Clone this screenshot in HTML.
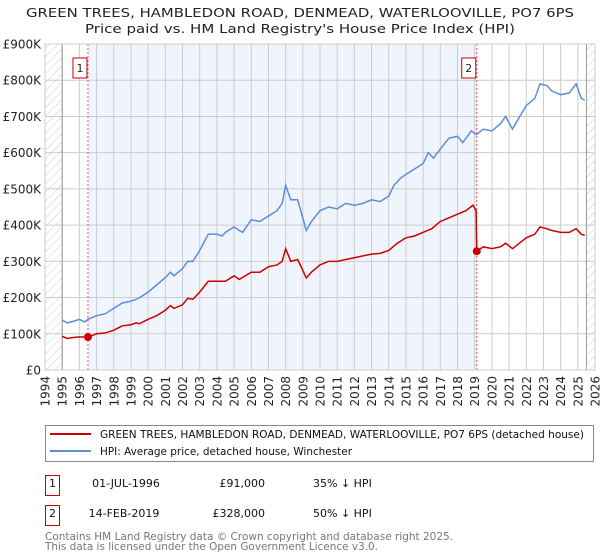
<!DOCTYPE html>
<html><head><meta charset="utf-8"><style>
body{margin:0;background:#fff;font-family:"DejaVu Sans","Liberation Sans",sans-serif;}
svg{display:block;font-family:"DejaVu Sans","Liberation Sans",sans-serif;}
</style></head><body>
<svg id="c" width="600" height="560" xmlns="http://www.w3.org/2000/svg">
<defs><pattern id="hatch" width="6" height="6" patternUnits="userSpaceOnUse" patternTransform="rotate(45)"><line x1="0" y1="0" x2="0" y2="6" stroke="#ccc" stroke-width="1"/></pattern></defs>
<text x="300" y="17" text-anchor="middle" font-size="12.5" fill="#222" textLength="548" lengthAdjust="spacingAndGlyphs">GREEN TREES, HAMBLEDON ROAD, DENMEAD, WATERLOOVILLE, PO7 6PS</text>
<text x="300" y="33" text-anchor="middle" font-size="12.5" fill="#222" textLength="430" lengthAdjust="spacingAndGlyphs">Price paid vs. HM Land Registry's House Price Index (HPI)</text>
<g id="plot"></g>
<g>
<rect x="45.5" y="425.5" width="548" height="36" fill="#fff" stroke="#888"/>
<line x1="50" y1="434" x2="91" y2="434" stroke="#cc0000" stroke-width="2"/>
<text x="100" y="438" font-size="11" fill="#111" textLength="484" lengthAdjust="spacingAndGlyphs">GREEN TREES, HAMBLEDON ROAD, DENMEAD, WATERLOOVILLE, PO7 6PS (detached house)</text>
<line x1="50" y1="451" x2="91" y2="451" stroke="#5b8fd4" stroke-width="2"/>
<text x="100" y="455" font-size="11" fill="#111" textLength="252" lengthAdjust="spacingAndGlyphs">HPI: Average price, detached house, Winchester</text>
</g>
<g font-size="11" fill="#111">
<rect x="45.5" y="475.5" width="14" height="20" fill="#fff" stroke="#cc0000"/><text x="52.5" y="477" dy="10" text-anchor="middle">1</text>
<text x="126" y="487" text-anchor="middle">01-JUL-1996</text><text x="265" y="487" text-anchor="end">£91,000</text><text x="313" y="487">35% ↓ HPI</text>
<rect x="45.5" y="505.5" width="14" height="20" fill="#fff" stroke="#cc0000"/><text x="52.5" y="507" dy="10" text-anchor="middle">2</text>
<text x="124" y="517" text-anchor="middle">14-FEB-2019</text><text x="265" y="517" text-anchor="end">£328,000</text><text x="313" y="517">50% ↓ HPI</text>
</g>
<text x="45" y="540" font-size="11" fill="#777" textLength="408" lengthAdjust="spacingAndGlyphs">Contains HM Land Registry data © Crown copyright and database right 2025.</text>
<text x="45" y="550" font-size="11" fill="#777" textLength="333" lengthAdjust="spacingAndGlyphs">This data is licensed under the Open Government Licence v3.0.</text>
</svg>
<script>
const yTicks=[0,100,200,300,400,500,600,700,800,900];
const yTickLabels=["£0","£100K","£200K","£300K","£400K","£500K","£600K","£700K","£800K","£900K"];
const xYears=[1994,1995,1996,1997,1998,1999,2000,2001,2002,2003,2004,2005,2006,2007,2008,2009,2010,2011,2012,2013,2014,2015,2016,2017,2018,2019,2020,2021,2022,2023,2024,2025,2026];
const hpiT=[1995,1995.3,1995.7,1996,1996.3,1996.5,1997,1997.5,1998,1998.5,1999,1999.3,1999.5,2000,2000.5,2001,2001.3,2001.5,2002,2002.3,2002.6,2003,2003.5,2004,2004.3,2004.5,2005,2005.3,2005.5,2006,2006.5,2007,2007.5,2007.8,2008,2008.3,2008.7,2009,2009.2,2009.5,2010,2010.5,2011,2011.5,2012,2012.5,2013,2013.5,2014,2014.3,2014.7,2015,2015.5,2016,2016.3,2016.6,2017,2017.5,2018,2018.3,2018.5,2018.8,2019.1,2019.5,2020,2020.5,2020.8,2021.2,2021.5,2022,2022.5,2022.8,2023.2,2023.5,2024,2024.5,2024.9,2025.2,2025.4];
const hpiV=[138,130,135,140,133,140,150,155,170,185,190,195,200,215,235,255,270,260,280,300,300,330,375,375,370,380,395,385,380,415,410,425,440,460,510,470,470,420,385,410,440,450,445,460,455,460,470,465,480,510,530,540,555,570,600,585,610,640,645,628,640,660,650,665,660,680,700,665,690,730,750,790,785,770,760,765,790,750,745];
const ppT=[1995,1995.3,1995.7,1996,1996.5,1997,1997.5,1998,1998.5,1999,1999.3,1999.5,2000,2000.5,2001,2001.3,2001.5,2002,2002.3,2002.6,2003,2003.5,2004,2004.5,2005,2005.3,2006,2006.5,2007,2007.5,2007.8,2008,2008.3,2008.7,2009,2009.2,2009.5,2010,2010.5,2011,2011.5,2012,2012.5,2013,2013.5,2014,2014.5,2015,2015.5,2016,2016.5,2017,2017.5,2018,2018.5,2018.9,2019.08,2019.12,2019.5,2020,2020.5,2020.8,2021.2,2021.6,2022,2022.5,2022.8,2023.2,2023.5,2024,2024.5,2024.9,2025.2,2025.4];
const ppV=[93,87,90,91,91,100,102,110,122,125,130,128,140,150,165,178,170,180,198,195,215,245,245,245,260,250,270,270,285,290,300,335,300,305,275,254,270,290,300,300,305,310,315,320,322,330,350,365,370,380,390,410,420,430,440,455,440,328,340,335,340,350,335,350,365,375,395,390,385,380,380,390,375,372];
const salesT=[1996.5,2019.12];
const salesV=[91,328];
const salesLabels=["1","2"];

const NS="http://www.w3.org/2000/svg";
const L=45,R=595,T=44,B=370;
const xs=t=>L+(t-1994)*(R-L)/32;
const ys=v=>B-(v/900)*(B-T);
const g=document.getElementById('plot');
function mk(tag,at){const e=document.createElementNS(NS,tag);for(const k in at)e.setAttribute(k,at[k]);g.appendChild(e);return e;}
let e;
e=mk('rect',{x:L,y:T,width:R-L,height:B-T,fill:'#fff'});


e=mk('rect',{x:xs(salesT[0]),y:T,width:xs(salesT[1])-xs(salesT[0]),height:B-T,fill:'#f0f4fd'});


e=mk('rect',{x:L,y:T,width:xs(1995)-L,height:B-T,fill:'url(#hatch)'});


e=mk('rect',{x:xs(2025.5),y:T,width:R-xs(2025.5),height:B-T,fill:'url(#hatch)'});


xYears.forEach(yr=>{
 e=mk('line',{x1:xs(yr),x2:xs(yr),y1:T,y2:B,stroke:'#ccc','stroke-width':1});
 
 
 e=mk('text',{x:0,y:0,'font-size':12,fill:'#222','text-anchor':'end',transform:`translate(${xs(yr)+4.5},376) rotate(-90)`});
 e.textContent=yr;
 
 
});
yTicks.forEach((v,i)=>{
 e=mk('line',{x1:L,x2:R,y1:ys(v),y2:ys(v),stroke:'#ccc','stroke-width':1});
 
 
 e=mk('text',{x:L-4,y:ys(v)+4.5,'font-size':12,fill:'#222','text-anchor':'end'});
 e.textContent=yTickLabels[i];
 
 
});
e=mk('line',{x1:xs(1995),x2:xs(1995),y1:T,y2:B,stroke:'#999'});


e=mk('line',{x1:xs(2025.5),x2:xs(2025.5),y1:T,y2:B,stroke:'#999'});


salesT.forEach((t,i)=>{
 e=mk('line',{x1:xs(t),x2:xs(t),y1:T,y2:B,stroke:'#e55','stroke-dasharray':'2,2'});
 
 
});
e=mk('polyline',{points:hpiT.map((t,i)=>xs(t)+','+ys(hpiV[i])).join(' '),fill:'none',stroke:'#5b8fd4','stroke-width':1.5});


e=mk('polyline',{points:ppT.map((t,i)=>xs(t)+','+ys(ppV[i])).join(' '),fill:'none',stroke:'#cc0000','stroke-width':1.5});


salesT.forEach((t,i)=>{
 e=mk('circle',{cx:xs(t),cy:ys(salesV[i]),r:4,fill:'#cc0000'});
 
 
 e=mk('rect',{x:xs(t)-15,y:58,width:14,height:20,fill:'#fff',stroke:'#cc0000'});
 
 
 e=mk('text',{x:xs(t)-8,y:72,'font-size':11,fill:'#222','text-anchor':'middle'});
 e.textContent=salesLabels[i];
 
 
});
e=mk('rect',{x:L,y:T,width:R-L,height:B-T,fill:'none',stroke:'#ccc'});


</script>
</body></html>
